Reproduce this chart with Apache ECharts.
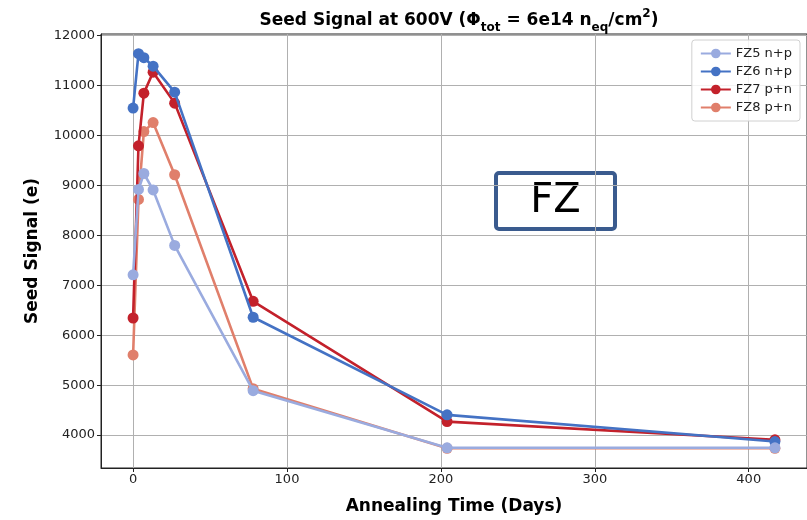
<!DOCTYPE html>
<html>
<head>
<meta charset="utf-8">
<script src="https://cdn.jsdelivr.net/npm/echarts@6/dist/echarts.min.js"></script>
<style>
  html, body { margin: 0; padding: 0; background: #fff; }
  #chart { width: 807px; height: 520px; }
</style>
</head>
<body>
<div id="chart"></div>
<script>
// annealing time in days, shared by all four sensors
const days = [0, 3.5, 7, 13, 27, 78, 204, 417];
const fz5 = [7210, 8920, 9240, 8910, 7800, 4890, 3745, 3745];
const fz6 = [10550, 11640, 11560, 11390, 10870, 6360, 4405, 3870];
const fz7 = [6345, 9795, 10850, 11270, 10650, 6680, 4270, 3905];
const fz8 = [5605, 8720, 10080, 10260, 9215, 4930, 3735, 3735];
const seriesNames = ["FZ5 n+p", "FZ6 n+p", "FZ7 p+n", "FZ8 p+n"];
const xTicks = [0, 100, 200, 300, 400];
const yTicks = [4000, 5000, 6000, 7000, 8000, 9000, 10000, 11000, 12000];

const colors = ["#9aabdf", "#4472c4", "#c3212b", "#e07f6b"];
const font = "'DejaVu Sans', sans-serif";

function pairs(vals) {
    return vals.map((v, i) => [days[i], v]);
}

const chart = echarts.init(document.getElementById("chart"), null, { renderer: "canvas" });

const allSeries = [fz5, fz6, fz7, fz8].map((vals, i) => ({
    name: seriesNames[i],
    type: "line",
    data: pairs(vals),
    symbol: "circle",
    symbolSize: 11,
    z: 5 - i,
    color: colors[i],
    lineStyle: { width: 2.6, color: colors[i] },
    itemStyle: { color: colors[i] }
}));

chart.setOption({
    animation: false,
    backgroundColor: "#fff",
    textStyle: { fontFamily: font },
    title: {
        text: "{a|Seed Signal at 600V (Φ}{s|tot}{a| = 6e14 n}{s|eq}{a|/cm}{p|2}{a|)}",
        left: 454, top: 3, textAlign: "center",
        textStyle: {
            rich: {
                a: { fontFamily: font, fontSize: 17, fontWeight: "bold", color: "#000", lineHeight: 26, verticalAlign: "middle" },
                s: { fontFamily: font, fontSize: 12, fontWeight: "bold", color: "#000", lineHeight: 26, verticalAlign: "bottom" },
                p: { fontFamily: font, fontSize: 12, color: "#000", lineHeight: 26, verticalAlign: "top" }
            }
        }
    },
    legend: {
        orient: "vertical",
        right: 7, top: 40,
        itemWidth: 30, itemHeight: 12, itemGap: 5,
        padding: [7, 8, 7, 8],
        borderColor: "#d0d0d0", borderWidth: 1, borderRadius: 3,
        backgroundColor: "rgba(255,255,255,0.85)",
        textStyle: { fontFamily: font, fontSize: 13, color: "#222" },
        data: seriesNames
    },
    grid: {
        left: 101, right: 0, top: 34, bottom: 49,
        show: true, borderColor: "#222", borderWidth: 1
    },
    xAxis: {
        type: "value",
        min: -20.85, max: 437.85,
        name: "Annealing Time (Days)",
        nameLocation: "middle", nameGap: 30,
        nameTextStyle: { fontFamily: font, fontSize: 17, fontWeight: "bold", color: "#000" },
        axisLine: { onZero: false, lineStyle: { color: "#222" } },
        axisTick: { customValues: xTicks, length: 4, lineStyle: { color: "#222" } },
        axisLabel: { customValues: xTicks, formatter: v => String(v), fontSize: 13, color: "#222", margin: 5 },
        splitLine: { show: true, lineStyle: { color: "#b0b0b0", width: 1 } }
    },
    yAxis: {
        type: "value",
        min: 3340, max: 12035,
        name: "Seed Signal (e)",
        nameLocation: "middle", nameGap: 60,
        nameTextStyle: { fontFamily: font, fontSize: 17, fontWeight: "bold", color: "#000" },
        axisLine: { show: true, onZero: false, lineStyle: { color: "#222" } },
        axisTick: { show: true, customValues: yTicks, length: 4, lineStyle: { color: "#222" } },
        axisLabel: { customValues: yTicks, formatter: v => String(v), fontSize: 13, color: "#222", margin: 6 },
        splitLine: { show: true, lineStyle: { color: "#b0b0b0", width: 1 } }
    },
    graphic: [{
        type: "group",
        left: 494, top: 171,
        children: [
            { type: "rect", shape: { x: 0, y: 0, width: 119, height: 56, r: 3 },
              style: { fill: "#fff", stroke: "#3a5b8e", lineWidth: 4 } },
            { type: "text", x: 59.5, y: 29,
              style: { text: "FZ", fontFamily: font, fontSize: 40, fill: "#000", align: "center", verticalAlign: "middle" } }
        ]
    }],
    series: allSeries
});
</script>
</body>
</html>
